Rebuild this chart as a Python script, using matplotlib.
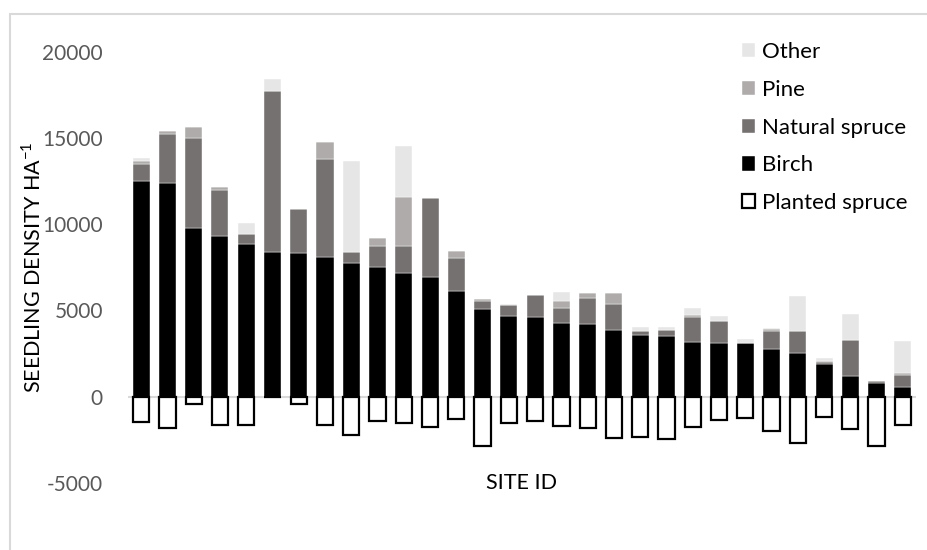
import numpy as np
import matplotlib
matplotlib.use('Agg')
from matplotlib import pyplot as plt
from matplotlib.patches import Rectangle

plt.rcParams['font.family'] = ['Lato', 'DejaVu Sans']
plt.rcParams['axes.unicode_minus'] = False

# seedling densities per site (stems per ha), stacked above zero
birch = [12510, 12400, 9780, 9315, 8870, 8385, 8330, 8080, 7770, 7495,
         7150, 6915, 6120, 5075, 4670, 4610, 4300, 4240, 3890, 3580,
         3505, 3160, 3140, 3100, 2750, 2540, 1880, 1180, 775, 560]
natural_spruce = [990, 2840, 5230, 2695, 540, 9335, 2540, 5690, 620, 1260,
                  1585, 4605, 1900, 465, 620, 1280, 830, 1470, 1470, 250,
                  345, 1490, 1250, 0, 1050, 1290, 120, 2110, 135, 700]
pine = [170, 190, 650, 170, 0, 0, 0, 970, 0, 425,
        2825, 0, 425, 100, 0, 0, 410, 315, 665, 0,
        0, 60, 0, 0, 110, 0, 60, 0, 0, 95]
other = [160, 0, 0, 0, 680, 720, 0, 0, 5300, 0,
         2965, 0, 0, 0, 70, 0, 560, 0, 0, 235,
         215, 460, 300, 250, 100, 2020, 165, 1510, 0, 1895]
# planted spruce is shown below the zero line
planted_spruce = [1480, 1830, 425, 1650, 1650, 0, 425, 1660, 2220, 1380,
                  1550, 1780, 1300, 2860, 1550, 1380, 1725, 1840, 2400, 2360,
                  2460, 1780, 1335, 1240, 2010, 2670, 1200, 1875, 2840, 1625]

c_other = '#e6e6e6'
c_pine = '#afabab'
c_nat = '#767171'
c_birch = '#000000'

x = np.arange(len(birch))
b = np.array(birch)
n = np.array(natural_spruce)
p = np.array(pine)
o = np.array(other)

fig = plt.figure(figsize=(9.28, 5.5), dpi=100)
ax = fig.add_axes([128/928, 1 - 483/550, 788/928, (483 - 51.7)/550])

w = 0.65
ax.axhline(0, color='#d9d9d9', lw=1.5, zorder=0)
h_birch = ax.bar(x, b, w, color=c_birch, edgecolor='white', lw=0.3)
h_nat = ax.bar(x, n, w, bottom=b, color=c_nat, edgecolor='white', lw=0.3)
h_pine = ax.bar(x, p, w, bottom=b + n, color=c_pine, edgecolor='white', lw=0.3)
h_other = ax.bar(x, o, w, bottom=b + n + p, color=c_other, edgecolor='white', lw=0.3)
h_pl = ax.bar(x, -np.array(planted_spruce), w * 0.95, color='white',
              edgecolor='black', lw=1.6)

ax.set_xlim(-0.5, len(x) - 0.5)
ax.set_ylim(-5000, 20000)
ax.set_yticks([-5000, 0, 5000, 10000, 15000, 20000])
ax.set_xticks([])
ax.tick_params(axis='y', length=0, pad=18, labelsize=15, labelcolor='#595959')
for s in ax.spines.values():
    s.set_visible(False)

fig.text(33/928, 1 - 267/550, 'SEEDLING DENSITY HA$^{\\mathdefault{-1}}$', rotation=90,
         ha='center', va='center', fontsize=15.5, color='black')
fig.text(522/928, 1 - 483/550, 'SITE ID', ha='center', va='center',
         fontsize=15.5, color='black')

leg = fig.legend([h_other, h_pine, h_nat, h_birch, h_pl],
                 ['Other', 'Pine', 'Natural spruce', 'Birch', 'Planted spruce'],
                 loc='upper left', bbox_to_anchor=(742/928, 1 - 42/550),
                 frameon=False, fontsize=16, handlelength=0.6, handleheight=0.6,
                 handletextpad=0.3, labelspacing=0.8, borderpad=0, borderaxespad=0)

# light chart-area border
fig.patches.append(Rectangle((10/928, -0.1), 1.2, 1 - 14/550 + 0.1,
                             transform=fig.transFigure, fill=False,
                             edgecolor='#d9d9d9', lw=1.5))

fig.savefig('out.png', dpi=100)
